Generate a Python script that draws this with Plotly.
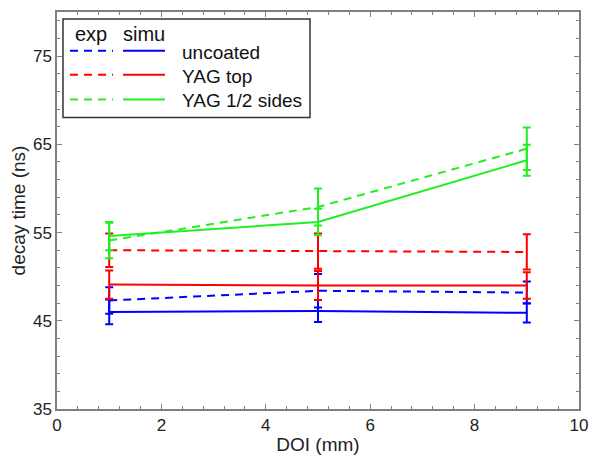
import plotly.graph_objects as go

# ---- data ----
doi = [1, 5, 9]
series_names = ["uncoated", "YAG top", "YAG 1/2 sides"]
exp_uncoated = [47.3, 48.4, 48.2]
exp_uncoated_err = [1.5, 1.9, 1.25]
simu_uncoated = [46.0, 46.1, 45.9]
simu_uncoated_err = [1.4, 1.25, 1.1]
exp_top = [53.0, 52.9, 52.8]
exp_top_err = [1.9, 2.0, 2.0]
simu_top = [49.1, 49.0, 49.0]
simu_top_err = [1.6, 1.65, 1.5]
exp_sides = [54.1, 57.9, 64.5]
exp_sides_err = [2.0, 2.1, 2.4]
simu_sides = [54.6, 56.2, 63.2]
simu_sides_err = [1.6, 1.5, 1.75]
y_ticks = [35, 45, 55, 65, 75]
x_ticks = [0, 2, 4, 6, 8, 10]

BLUE = "#0000ff"
RED = "#ff0000"
GREEN = "#22ee22"
FONT = "Liberation Sans, Arial, sans-serif"
DASH = "8px,6px"

fig = go.Figure()

def add(y, err, color, dash):
    fig.add_trace(go.Scatter(
        x=doi, y=y, mode="lines",
        line=dict(color=color, width=2, dash=dash),
        error_y=dict(type="data", array=err, visible=True,
                     color=color, thickness=2, width=4),
        showlegend=False, hoverinfo="skip"))

add(exp_uncoated, exp_uncoated_err, BLUE, DASH)
add(simu_uncoated, simu_uncoated_err, BLUE, "solid")
add(exp_top, exp_top_err, RED, DASH)
add(simu_top, simu_top_err, RED, "solid")
add(exp_sides, exp_sides_err, GREEN, DASH)
add(simu_sides, simu_sides_err, GREEN, "solid")

# ---- layout geometry (page body has an 8px margin) ----
OFF = 8
W, H = 600 - OFF, 464 - OFF
PL, PR, PT, PB = 57, 579, 10, 409          # plot area in window pixels
L, T = PL - OFF, PT - OFF
PW, PH = PR - PL, PB - PT
R = W - L - PW
B = H - T - PH

def px(x):
    return (x - PL) / PW

def py(y):
    return (PB - y) / PH

shapes = []
annotations = []
# legend box
shapes.append(dict(type="rect", xref="paper", yref="paper",
                   x0=px(63), x1=px(310), y0=py(116), y1=py(17),
                   line=dict(color="#333333", width=1.5), fillcolor="white"))

def label(text, x, y, size, anchor="center"):
    annotations.append(dict(text=text, x=px(x), y=py(y), xref="paper", yref="paper",
                            xanchor=anchor, yanchor="middle", showarrow=False,
                            font=dict(family=FONT, size=size, color="#111111")))

label("exp", 91, 32, 20)
label("simu", 144, 32, 20)
rows = [(49, 51, BLUE), (73, 75, RED), (98, 99, GREEN)]
for (ly, ty, col), name in zip(rows, series_names):
    shapes.append(dict(type="line", xref="paper", yref="paper",
                       x0=px(70), x1=px(113), y0=py(ly), y1=py(ly),
                       line=dict(color=col, width=2, dash=DASH)))
    shapes.append(dict(type="line", xref="paper", yref="paper",
                       x0=px(123), x1=px(165), y0=py(ly), y1=py(ly),
                       line=dict(color=col, width=2)))
    label(name, 180, ty, 19, anchor="left")

axis_common = dict(showgrid=False, zeroline=False, showline=True,
                   linecolor="#808080", linewidth=1.5, mirror="ticks",
                   ticks="inside", ticklen=5, tickcolor="#808080", tickwidth=1,
                   tickfont=dict(family=FONT, size=17, color="#222222"))

fig.update_layout(
    width=W, height=H, autosize=False,
    margin=dict(l=L, r=R, t=T, b=B),
    paper_bgcolor="white", plot_bgcolor="white",
    shapes=shapes, annotations=annotations,
    xaxis=dict(range=[0, 10], tickvals=x_ticks,
               title=dict(text="DOI (mm)", font=dict(family=FONT, size=19, color="#222222"), standoff=4),
               minor=dict(ticks="inside", ticklen=3, dtick=0.4, tick0=0, tickcolor="#808080"),
               **axis_common),
    yaxis=dict(range=[35, 80], tickvals=y_ticks,
               title=dict(text="decay time (ns)", font=dict(family=FONT, size=19, color="#222222"), standoff=6),
               minor=dict(ticks="inside", ticklen=3, dtick=2, tick0=35, tickcolor="#808080"),
               **axis_common),
)

fig.write_html("out.html")
